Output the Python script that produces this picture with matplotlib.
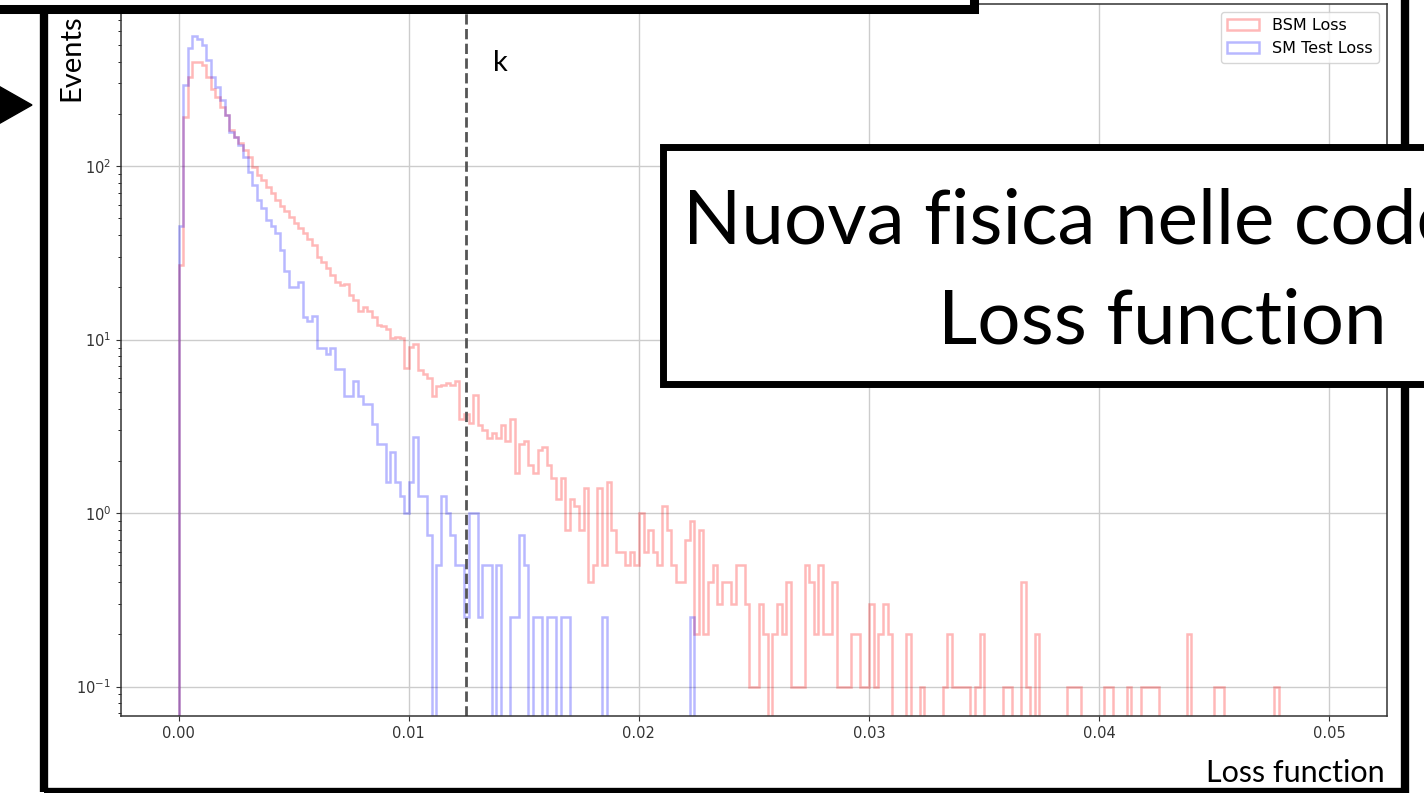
import numpy as np
import matplotlib
matplotlib.use('Agg')
import matplotlib.pyplot as plt
from matplotlib.patches import Rectangle, Polygon

# bin layout of the histograms (0 .. 0.05 in 250 bins)
bin_w = 0.0002

# BSM loss, weighted counts per bin (starting at 0.0)
bsm_counts = [
    27, 192, 327, 399, 399, 382, 327, 280, 251, 220,
    197, 161, 148, 135, 124, 113, 99, 89, 83, 76,
    70, 64, 59, 55, 51, 47, 44, 41, 38, 35,
    30, 28, 26, 23.5, 21.5, 20.5, 21, 18, 17, 14.7,
    15.4, 14.7, 13.5, 12.2, 11.9, 11.5, 10.2, 10.4, 10.2, 6.9,
    9.1, 9.4, 6.7, 6.3, 6.0, 4.7, 5.4, 5.5, 5.6, 5.5,
    5.8, 3.5, 3.7, 3.3, 4.8, 3.2, 3.0, 2.7, 2.9, 2.7,
    3.2, 2.6, 3.5, 1.7, 2.5, 2.6, 1.9, 1.7, 2.3, 2.4,
    1.9, 1.6, 1.2, 1.6, 0.8, 1.2, 1.1, 0.8, 1.4, 0.4,
    0.5, 1.4, 0.5, 1.5, 0.8, 0.6, 0.6, 0.5, 0.6, 0.5,
    1.0, 0.6, 0.8, 0.6, 0.5, 1.1, 0.8, 0.5, 0.4, 0.4,
    0.7, 0.9, 0.2, 0.8, 0.2, 0.4, 0.5, 0.3, 0.4, 0.4,
    0.3, 0.5, 0.5, 0.3, 0.1, 0.1, 0.3, 0.2, 0, 0.2,
    0.3, 0.2, 0.4, 0.1, 0.1, 0.1, 0.5, 0.4, 0.2, 0.5,
    0.2, 0.2, 0.4, 0.1, 0.1, 0.1, 0.2, 0.2, 0.1, 0.1,
    0.3, 0.1, 0.2, 0.3, 0.2, 0, 0, 0, 0.2, 0,
    0, 0.1, 0, 0, 0, 0, 0.1, 0.2, 0.1, 0.1,
    0.1, 0.1, 0, 0.1, 0.2, 0, 0, 0, 0, 0.1,
    0.1, 0, 0, 0.4, 0.1, 0, 0.2, 0, 0, 0,
    0, 0, 0, 0.1, 0.1, 0.1, 0, 0, 0, 0,
    0, 0.1, 0.1, 0, 0, 0, 0.1, 0, 0, 0.1,
    0.1, 0.1, 0.1, 0, 0, 0, 0, 0, 0, 0.2,
    0, 0, 0, 0, 0, 0.1, 0.1, 0, 0, 0,
    0, 0, 0, 0, 0, 0, 0, 0, 0.1,
]

# SM test loss, weighted counts per bin (starting at 0.0)
sm_counts = [
    45, 293, 477, 561, 544, 498, 408, 327, 284, 240,
    197, 158, 148, 132, 113, 92, 78, 64, 57, 49,
    45, 41, 33, 25, 20, 20, 21.5, 13.5, 12.75, 13.75,
    9, 9, 8.25, 9, 6.75, 6.75, 4.75, 4.75, 5.75, 4.75,
    4.25, 4.25, 3.25, 2.5, 2.5, 1.5, 2.25, 1.5, 1.25, 1.0,
    1.5, 2.75, 1.25, 1.25, 0.75, 0, 0.5, 1.25, 1.0, 0.75,
    0.5, 0.5, 0.25, 1.0, 1.0, 0.25, 0.5, 0.5, 0, 0.5,
    0, 0, 0.25, 0.25, 0.75, 0.5, 0, 0.25, 0.25, 0,
    0.25, 0.25, 0, 0.25, 0.25, 0, 0, 0, 0, 0,
    0, 0, 0.25, 0, 0, 0, 0, 0, 0, 0,
    0, 0, 0, 0, 0, 0, 0, 0, 0, 0,
    0, 0.25,
]

k_cut = 0.0125
x_ticks = [0.00, 0.01, 0.02, 0.03, 0.04, 0.05]

W, H = 1424, 793
fig = plt.figure(figsize=(W / 100, H / 100), dpi=100)


def fx(x):
    return x / W


def fy(y):
    return 1 - y / H


ax = fig.add_axes([fx(121), fy(716), fx(1387) - fx(121), fy(4) - fy(716)])

bsm_edges = np.arange(len(bsm_counts) + 1) * bin_w
sm_edges = np.arange(len(sm_counts) + 1) * bin_w
ax.hist(bsm_edges[:-1], bins=bsm_edges, weights=bsm_counts, histtype='step',
        color='red', alpha=0.28, lw=1.8, log=True, label='BSM Loss')
ax.hist(sm_edges[:-1], bins=sm_edges, weights=sm_counts, histtype='step',
        color='blue', alpha=0.28, lw=1.8, log=True, label='SM Test Loss')

ax.axvline(k_cut, color='#555555', ls='--', lw=2.0)

ax.set_xlim(-0.0025, 0.0525)
ax.set_ylim(0.0676, 860)
ax.set_xticks(x_ticks)
ax.set_xticklabels(['%.2f' % t for t in x_ticks])
ax.grid(True, which='major', color='#cccccc', lw=1.0)
ax.set_axisbelow(True)
ax.tick_params(labelsize=10.5, colors='#333333')
for s in ax.spines.values():
    s.set_color('#333333')
    s.set_linewidth(1.1)

ax.legend(loc='upper right', fontsize=11.5)

# slide decorations around the chart
frame = Rectangle((fx(44), fy(792)), fx(1405) - fx(44), fy(-50) - fy(792),
                  transform=fig.transFigure, fill=False, ec='black', lw=6, zorder=4)
fig.add_artist(frame)
top_box = Rectangle((fx(-50), fy(8.5)), fx(974) - fx(-50), fy(-100) - fy(8.5),
                    transform=fig.transFigure, fc='white', ec='black', lw=6.5, zorder=5)
fig.add_artist(top_box)
text_box = Rectangle((fx(663), fy(383.5)), fx(1500) - fx(663), fy(146.5) - fy(383.5),
                     transform=fig.transFigure, fc='white', ec='black', lw=5, zorder=6)
fig.add_artist(text_box)
arrow = Polygon([(fx(-5), fy(84)), (fx(32), fy(105)), (fx(-5), fy(126))],
                closed=True, transform=fig.transFigure, fc='black', ec='black', zorder=7)
fig.add_artist(arrow)

slide_font = 'Lato'
fig.text(fx(71), fy(58), 'Events', rotation=90, ha='center', va='center',
         fontsize=21, family=slide_font, zorder=8)
fig.text(fx(493), fy(71), 'k', ha='left', va='baseline',
         fontsize=21, family=slide_font, zorder=8)
fig.text(fx(1385), fy(782), 'Loss function', ha='right', va='baseline',
         fontsize=22, family=slide_font, zorder=8)
fig.text(fx(683), fy(243), 'Nuova fisica nelle code', ha='left', va='baseline',
         fontsize=55, family=slide_font, zorder=8)
fig.text(fx(938), fy(343), 'Loss function', ha='left', va='baseline',
         fontsize=55, family=slide_font, zorder=8)

fig.savefig('out.png', dpi=100)
